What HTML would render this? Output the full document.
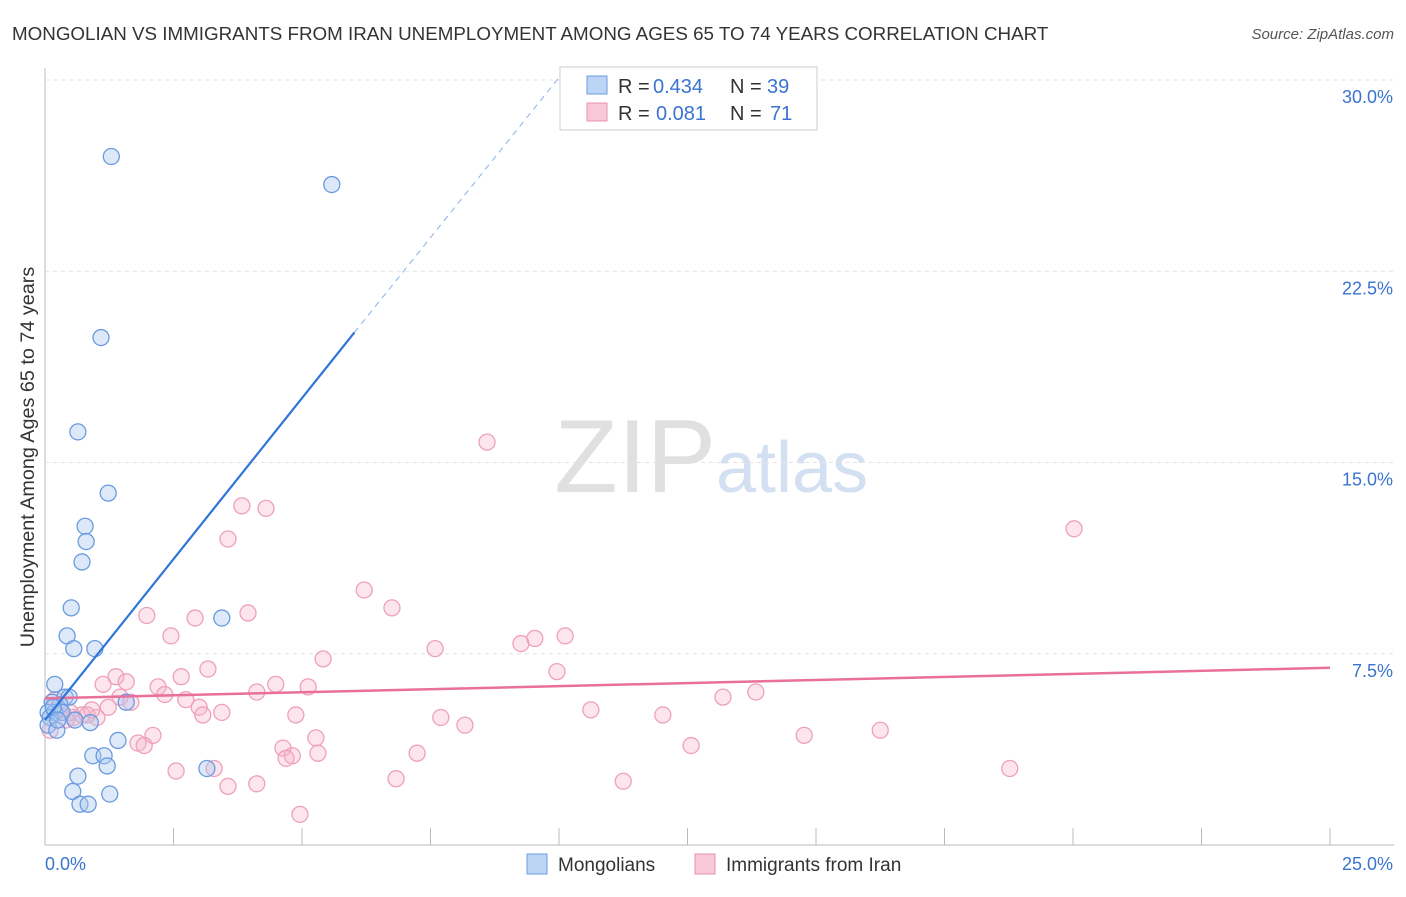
<!DOCTYPE html>
<html><head><meta charset="utf-8"><style>
body{margin:0;background:#fff;font-family:"Liberation Sans",sans-serif}
svg text{font-family:"Liberation Sans",sans-serif}
</style></head><body>
<svg id="c" width="1406" height="892">
<text x="12" y="40" font-size="18.8" fill="#333">MONGOLIAN VS IMMIGRANTS FROM IRAN UNEMPLOYMENT AMONG AGES 65 TO 74 YEARS CORRELATION CHART</text>
<text x="1394" y="39" font-size="15" fill="#555" font-style="italic" text-anchor="end">Source: ZipAtlas.com</text>
<text x="716" y="492" font-size="104" fill="#e0e0e0" font-family="Liberation Serif" text-anchor="end">ZIP</text>
<text x="716" y="492" font-size="72" fill="#d3e0f2">atlas</text>
<text transform="translate(34,457) rotate(-90)" font-size="19.8" fill="#333" text-anchor="middle">Unemployment Among Ages 65 to 74 years</text>
<g id="grid"></g><g id="marks"></g>
<g>
<rect x="560" y="67" width="257" height="63" fill="#fff" stroke="#ccc"/>
<rect x="587" y="76" width="20" height="18" fill="#bcd5f5" stroke="#6a9be0"/>
<rect x="587" y="103" width="20" height="18" fill="#f9c8d8" stroke="#e890ae"/>
<text x="618" y="93" font-size="20" fill="#333">R =</text>
<text x="653" y="93" font-size="20" fill="#3a74d0">0.434</text>
<text x="730" y="93" font-size="20" fill="#333">N =</text>
<text x="767" y="93" font-size="20" fill="#3a74d0">39</text>
<text x="618" y="120" font-size="20" fill="#333">R =</text>
<text x="656" y="120" font-size="20" fill="#3a74d0">0.081</text>
<text x="730" y="120" font-size="20" fill="#333">N =</text>
<text x="770" y="120" font-size="20" fill="#3a74d0">71</text>
</g>
<g>
<rect x="527" y="854" width="20" height="20" fill="#bcd5f5" stroke="#6a9be0"/>
<text x="558" y="871" font-size="19" fill="#333">Mongolians</text>
<rect x="695" y="854" width="20" height="20" fill="#f9c8d8" stroke="#e890ae"/>
<text x="726" y="871" font-size="19" fill="#333">Immigrants from Iran</text>
</g>
</svg>
<script>
const yTicks=[7.5,15,22.5,30];
const yTickLabels=["7.5%","15.0%","22.5%","30.0%"];
const xTicks=[0,2.5,5,7.5,10,12.5,15,17.5,20,22.5,25];
const blueX=[1.29,5.58,1.09,0.64,1.23,0.78,0.80,0.72,0.51,3.44,0.43,0.56,0.97,0.19,0.39,0.47,0.14,0.29,1.58,0.06,0.19,0.33,0.10,0.58,0.88,0.06,0.23,1.42,0.93,1.15,1.21,0.64,3.15,0.54,1.26,0.68,0.84,0.16,0.25];
const blueY=[27.0,25.9,19.9,16.2,13.8,12.5,11.9,11.1,9.3,8.9,8.2,7.7,7.7,6.3,5.8,5.8,5.6,5.5,5.6,5.2,5.2,5.2,5.0,4.9,4.8,4.7,4.5,4.1,3.5,3.5,3.1,2.7,3.0,2.1,2.0,1.6,1.6,5.4,4.9];
const pinkX=[8.6,20.02,3.83,4.30,3.56,6.21,6.75,3.95,1.98,2.92,2.45,9.26,9.53,10.12,7.59,5.41,3.17,1.38,2.65,9.96,1.58,1.13,2.20,4.49,5.12,2.33,1.46,4.12,2.74,1.67,13.83,13.19,3.00,3.44,3.07,1.23,1.01,0.56,0.72,0.82,10.62,4.88,7.70,12.02,8.17,5.27,2.10,1.81,1.93,4.63,5.31,4.81,4.69,7.24,12.57,14.77,16.25,3.29,2.55,6.83,4.12,3.56,11.25,18.77,4.96,0.29,0.41,0.10,0.91,0.19,0.49];
const pinkY=[15.8,12.4,13.3,13.2,12.0,10.0,9.3,9.1,9.0,8.9,8.2,7.9,8.1,8.2,7.7,7.3,6.9,6.6,6.6,6.8,6.4,6.3,6.2,6.3,6.2,5.9,5.8,6.0,5.7,5.6,6.0,5.8,5.4,5.2,5.1,5.4,5.0,5.0,5.1,5.1,5.3,5.1,5.0,5.1,4.7,4.2,4.3,4.0,3.9,3.8,3.6,3.5,3.4,3.6,3.9,4.3,4.5,3.0,2.9,2.6,2.4,2.3,2.5,3.0,1.2,5.3,4.9,4.5,5.3,5.7,5.2];
const X=v=>45+v*51.4, Y=v=>845-v*25.5;
const NS="http://www.w3.org/2000/svg";
const grid=document.getElementById('grid'), marks=document.getElementById('marks');
function mk(tag,attrs,parent){const e=document.createElementNS(NS,tag);for(const k in attrs)e.setAttribute(k,attrs[k]);parent.appendChild(e);return e;}
let ax=mk('line',{x1:45,y1:68,x2:45,y2:845,stroke:'#bbb'},grid);


let bx=mk('line',{x1:45,y1:845,x2:1394,y2:845,stroke:'#bbb'},grid);


yTicks.forEach((t,i)=>{
 let g=mk('line',{x1:45,y1:Y(t),x2:1394,y2:Y(t),stroke:'#e3e3e3','stroke-dasharray':'4,4'},grid);
 
 
 let tx=mk('text',{x:1393,y:Y(t)+23,'font-size':18,fill:'#3a74d0','text-anchor':'end'},grid);tx.textContent=yTickLabels[i];
 
 
});
xTicks.forEach(t=>{
 if(t===0)return;
 let l=mk('line',{x1:X(t),y1:828,x2:X(t),y2:845,stroke:'#bbb'},grid);
 
 
});
let x0=mk('text',{x:45,y:870,'font-size':18,fill:'#3a74d0'},grid);x0.textContent="0.0%";


let x1=mk('text',{x:1393,y:870,'font-size':18,fill:'#3a74d0','text-anchor':'end'},grid);x1.textContent="25.0%";


pinkX.forEach((v,i)=>{let c=mk('circle',{cx:X(v),cy:Y(pinkY[i]),r:8,fill:'rgba(246,180,204,0.35)',stroke:'#eea0bc','stroke-width':1.3},marks);
 
 });
blueX.forEach((v,i)=>{let c=mk('circle',{cx:X(v),cy:Y(blueY[i]),r:8,fill:'rgba(170,200,240,0.4)',stroke:'#6a9be0','stroke-width':1.3},marks);
 
 });
let pl=mk('line',{x1:X(0),y1:Y(5.75),x2:X(25),y2:Y(6.95),stroke:'#e8709a','stroke-width':2.5},marks);


let bl=mk('line',{x1:X(0),y1:Y(4.9),x2:X(6.02),y2:Y(20.1),stroke:'#2f74d8','stroke-width':2.2},marks);


let bd=mk('line',{x1:X(6.02),y1:Y(20.1),x2:X(10),y2:Y(30.1),stroke:'#8ab0e8','stroke-width':1,'stroke-dasharray':'6,5'},marks);


</script>
</body></html>
